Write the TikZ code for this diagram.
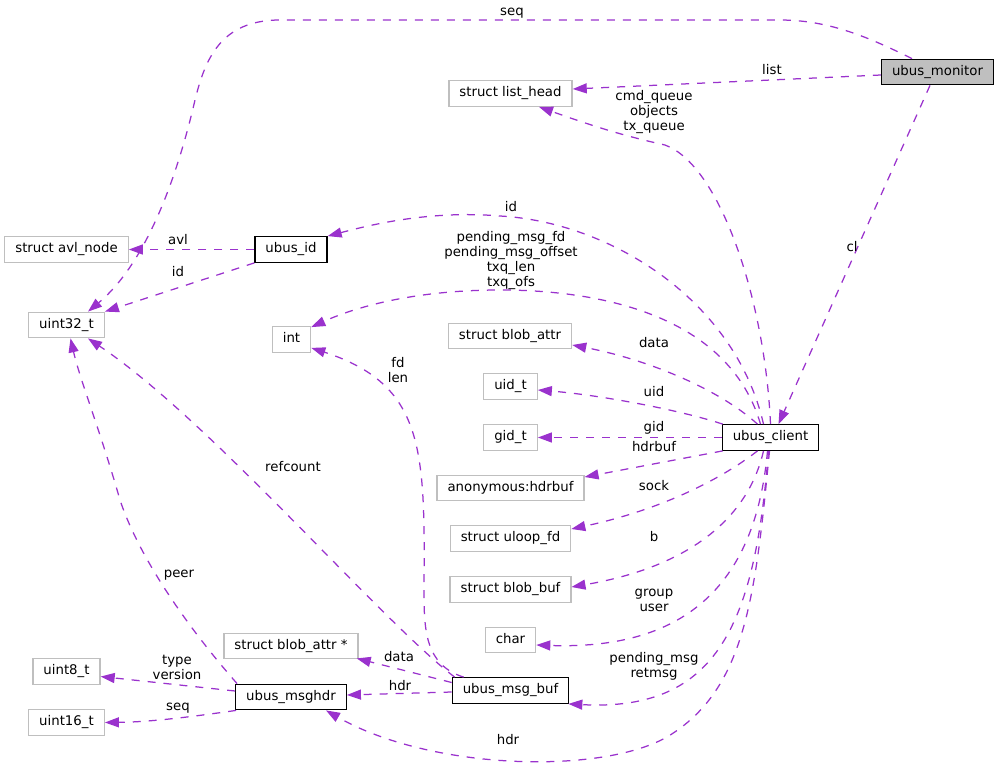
\documentclass[tikz,border=0pt]{standalone}
\usepackage{fontspec}
\setmainfont{DejaVu Sans}
\usetikzlibrary{arrows.meta,calc}
\definecolor{usagepurple}{RGB}{154,50,205}
\definecolor{boxgray}{RGB}{191,191,191}

\begin{document}
\begin{tikzpicture}[x=1pt,y=-1pt,
    extbox/.style={draw=boxgray, line width=1.3pt, inner xsep=10.5pt, inner ysep=0pt,
        minimum height=25.5pt, text height=9.7pt, text depth=3pt,
        font=\fontsize{13.3}{15}\selectfont},
    docbox/.style={extbox, draw=black},
    rootbox/.style={docbox, fill=boxgray},
    usage/.style={draw=usagepurple, line width=1.25pt, dash pattern=on 8pt off 8pt,
        -{Triangle[length=14pt,width=10pt]}, fill=none},
    lbl/.style={inner sep=0pt, align=center, font=\fontsize{13.3}{15}\selectfont}]
    \useasboundingbox (0,0) rectangle (999,769);

    % Classes
    \node[rootbox] (monitor) at (937.5,72) {ubus\_monitor};
    \node[extbox] (listhead) at (510.5,93.5) {struct list\_head};
    \node[extbox] (avlnode) at (66.5,249.5) {struct avl\_node};
    \node[docbox] (ubusid) at (291,249.5) {ubus\_id};
    \node[extbox] (uint32) at (66.5,325) {uint32\_t};
    \node[extbox] (int) at (291.5,339.5) {int};
    \node[docbox] (client) at (770.5,437.5) {ubus\_client};
    \node[extbox] (blobattr) at (510,336) {struct blob\_attr};
    \node[extbox] (uid) at (510.5,386.5) {uid\_t};
    \node[extbox] (gid) at (510.5,437.5) {gid\_t};
    \node[extbox] (hdrbuf) at (510.5,488) {anonymous:hdrbuf};
    \node[extbox] (uloop) at (510.5,538.5) {struct uloop\_fd};
    \node[extbox] (blobbuf) at (510.5,589.5) {struct blob\_buf};
    \node[extbox] (char) at (510.5,640) {char};
    \node[docbox] (msgbuf) at (510.5,690.5) {ubus\_msg\_buf};
    \node[extbox] (blobattrp) at (291,646) {struct blob\_attr *};
    \node[docbox] (msghdr) at (291,697) {ubus\_msghdr};
    \node[extbox] (uint8) at (66.5,671.5) {uint8\_t};
    \node[extbox] (uint16) at (66.5,722.5) {uint16\_t};

    % ubus_monitor members
    \draw[usage] ($(monitor.north)+(-25.5,0)$) .. controls (870,38) and (830,20) .. (780,20)
        -- (280,20) .. controls (220,20) and (205,60) .. (195,100)
        .. controls (180,165) and (150,260) .. ($(uint32.north)+(21.5,0)$);
    \draw[usage] ($(monitor.west)+(0,3)$) -- ($(listhead.east)+(0,-4.5)$);
    \draw[usage] ($(monitor.south)+(-7.5,0)$) -- ($(client.north)+(8,0)$);
    \node[lbl] (lseq) at (512,13) {seq};
    \node[lbl] (llist) at (772,70) {list};
    \node[lbl] (lcl) at (852,247) {cl};

    % ubus_client members
    \draw[usage] (client.north) .. controls (765,300) and (720,165) .. (665,145)
        .. controls (620,135) and (590,125) .. ($(listhead.south)+(28.5,0)$);
    \draw[usage] ($(client.north)+(-7,0)$) .. controls (735,300) and (610,222) .. (500,216)
        .. controls (430,210) and (370,225) .. (ubusid.north east);
    \draw[usage] ($(client.north)+(-10,0)$) .. controls (730,320) and (610,290) .. (500,290)
        .. controls (420,290) and (360,305) .. ($(int.north east)+(0,1)$);
    \draw[usage] ($(client.north)+(-13,0)$) .. controls (720,390) and (650,360) .. ($(blobattr.east)+(0,9)$);
    \draw[usage] ($(client.north west)+(1,0)$) .. controls (680,410) and (600,395) .. ($(uid.east)+(0,3.5)$);
    \draw[usage] (client.west) -- (gid.east);
    \draw[usage] ($(client.south west)+(1,0)$) -- ($(hdrbuf.east)+(0,-11)$);
    \draw[usage] ($(client.south)+(-13,0)$) .. controls (720,480) and (660,510) .. ($(uloop.east)+(0,-9.5)$);
    \draw[usage] ($(client.south)+(-7,0)$) .. controls (750,510) and (700,565) .. ($(blobbuf.east)+(0,-2.5)$);
    \draw[usage] ($(client.south)+(-3,0)$) .. controls (755,590) and (680,650) .. ($(char.east)+(0,5)$);
    \draw[usage] ($(client.south)+(-2,0)$) .. controls (755,620) and (720,712) .. ($(msgbuf.south east)+(-1,0)$);
    \draw[usage] ($(client.south)+(-1,0)$) .. controls (755,600) and (745,690) .. (667,737)
        .. controls (600,775) and (430,770) .. ($(msghdr.south)+(35,0)$);
    \node[lbl] (lqueue) at (654,112) {cmd\_queue\\objects\\tx\_queue};
    \node[lbl] (lid) at (511,207) {id};
    \node[lbl] (lpend) at (511,261) {pending\_msg\_fd\\pending\_msg\_offset\\txq\_len\\txq\_ofs};
    \node[lbl] (ldata) at (654,343) {data};
    \node[lbl] (luid) at (654,392) {uid};
    \node[lbl] (lgid) at (654,428) {gid};
    \node[lbl] (lhdrbuf) at (654,447) {hdrbuf};
    \node[lbl] (lsock) at (654,486) {sock};
    \node[lbl] (lb) at (654,537) {b};
    \node[lbl] (lgroup) at (654,600) {group\\user};
    \node[lbl] (lretmsg) at (654,666) {pending\_msg\\retmsg};
    \node[lbl] (lhdr) at (508,740) {hdr};

    % ubus_msg_buf members
    \draw[usage] ($(msgbuf.north west)+(3,0)$) .. controls (380,620) and (210,420) .. ($(uint32.south)+(21.5,0)$);
    \draw[usage] ($(msgbuf.north west)+(12,0)$) .. controls (425,665) and (424,630) .. (424,590)
        .. controls (425,450) and (425,385) .. ($(int.south east)+(0,-5)$);
    \draw[usage] ($(msgbuf.west)+(0,-8)$) -- ($(blobattrp.south east)+(-2,-1)$);
    \draw[usage] ($(msgbuf.west)+(0,1.5)$) -- ($(msghdr.east)+(0,-2)$);
    \node[lbl] (lrefcount) at (293,467) {refcount};
    \node[lbl] (lfdlen) at (398,370.5) {fd\\len};
    \node[lbl] (ldatab) at (399,657) {data};
    \node[lbl] (lhdrb) at (400,686) {hdr};

    % ubus_msghdr members
    \draw[usage] ($(msghdr.north west)+(2,0)$) .. controls (190,630) and (140,560) .. (120,500)
        .. controls (100,430) and (80,380) .. ($(uint32.south)+(4,0)$);
    \draw[usage] ($(msghdr.west)+(0,-6)$) -- ($(uint8.east)+(0,5)$);
    \draw[usage] ($(msghdr.south west)+(1,0)$) .. controls (190,717) and (150,722) .. (uint16.east);
    \node[lbl] (lpeer) at (179,575) {peer};
    \node[lbl] (ltype) at (177,667) {type\\version};
    \node[lbl] (lseqb) at (178,708) {seq};

    % ubus_id members
    \draw[usage] (ubusid.west) -- (avlnode.east);
    \draw[usage] (ubusid.south west) -- (uint32.north east);
    \node[lbl] (lavl) at (178,240) {avl};
    \node[lbl] (lidb) at (178,272) {id};
\end{tikzpicture}
\end{document}
